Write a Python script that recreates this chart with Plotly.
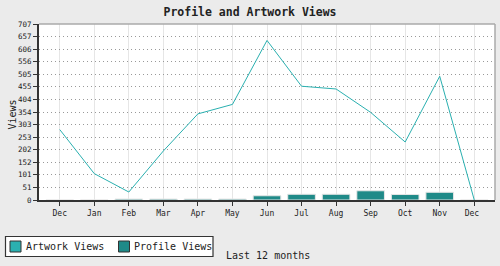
import plotly.graph_objects as go

months = ["Dec", "Jan", "Feb", "Mar", "Apr", "May", "Jun", "Jul", "Aug", "Sep", "Oct", "Nov", "Dec "]
artwork_views = [283, 106, 32, 197, 346, 384, 641, 457, 446, 352, 233, 497, 0]
profile_views = [0, 0, 4, 4, 4, 4, 17, 23, 23, 37, 22, 31, 0]
y_tick_vals = [0, 50.5, 101, 151.5, 202, 252.5, 303, 353.5, 404, 454.5, 505, 555.5, 606, 656.5, 707]
y_tick_text = ["0", "51", "101", "152", "202", "253", "303", "354", "404", "455", "505", "556", "606", "657", "707"]
series_names = ["Artwork Views", "Profile Views"]

FONT = "DejaVu Sans Mono"
ART_COLOR = "#2ab0b0"
PROF_COLOR = "#1f8a88"

# plot area in pixels
PL, PR, PT, PB = 39, 495, 24, 200


def px_x(px):
    return (px - PL) / (PR - PL)


def px_y(py):
    return (PB - py) / (PB - PT)


fig = go.Figure()
fig.add_trace(go.Bar(
    x=months, y=profile_views, name=series_names[1],
    marker=dict(color=PROF_COLOR, line=dict(color="#e6e6e6", width=1)),
    width=0.8, showlegend=False,
))
fig.add_trace(go.Scatter(
    x=months, y=artwork_views, name=series_names[0], mode="lines",
    line=dict(color=ART_COLOR, width=1), showlegend=False,
))

shapes = [
    dict(type="line", xref="paper", yref="paper", x0=0, x1=1, y0=1, y1=1,
         line=dict(color="#aaaaaa", width=1.5)),
    dict(type="line", xref="paper", yref="paper", x0=1, x1=1, y0=0, y1=1,
         line=dict(color="#aaaaaa", width=1.5)),
    # legend box
    dict(type="rect", xref="paper", yref="paper", x0=px_x(5.5), x1=px_x(213), y0=px_y(236.5), y1=px_y(256.5),
         line=dict(color="#333333", width=1.2), fillcolor="white", layer="above"),
    dict(type="rect", xref="paper", yref="paper", x0=px_x(10), x1=px_x(21), y0=px_y(241), y1=px_y(252),
         line=dict(color="#333333", width=1), fillcolor=ART_COLOR, layer="above"),
    dict(type="rect", xref="paper", yref="paper", x0=px_x(118.5), x1=px_x(129.5), y0=px_y(241), y1=px_y(252),
         line=dict(color="#333333", width=1), fillcolor=PROF_COLOR, layer="above"),
]
annotations = [
    dict(text=series_names[0], xref="paper", yref="paper", x=px_x(24), y=px_y(246.5), xanchor="left",
         yanchor="middle", showarrow=False, font=dict(family=FONT, size=10, color="#222222")),
    dict(text=series_names[1], xref="paper", yref="paper", x=px_x(132), y=px_y(246.5), xanchor="left",
         yanchor="middle", showarrow=False, font=dict(family=FONT, size=10, color="#222222")),
    dict(text="Last 12 months", xref="paper", yref="paper", x=px_x(224), y=px_y(255), xanchor="left",
         yanchor="middle", showarrow=False, font=dict(family=FONT, size=10, color="#222222")),
    dict(text="Views", xref="paper", yref="paper", x=px_x(11.5), y=px_y(115), xanchor="center",
         yanchor="middle", textangle=-90, showarrow=False, font=dict(family=FONT, size=10, color="#222222")),
]

fig.update_layout(
    width=500, height=266,
    margin=dict(l=PL, r=500 - PR, t=PT, b=266 - PB, autoexpand=False),
    paper_bgcolor="#ebebeb", plot_bgcolor="white",
    font=dict(family=FONT, size=8, color="#222222"),
    title=dict(text="<b>Profile and Artwork Views</b>", x=0.5, xanchor="center",
               y=1 - 12 / 266, yanchor="middle", font=dict(family=FONT, size=11.5, color="#222222")),
    bargap=0.2,
    showlegend=False,
    xaxis=dict(type="category", range=[-0.6, 12.6], showgrid=True, gridcolor="#e6e6e6", gridwidth=1,
               showline=True, linecolor="#333333", linewidth=2, ticks="outside", ticklen=4,
               tickcolor="#333333", tickfont=dict(family=FONT, size=8, color="#222222"),
               zeroline=False, automargin=False),
    yaxis=dict(range=[0, 707], tickvals=y_tick_vals, ticktext=y_tick_text, showgrid=True,
               gridcolor="#999999", griddash="1px,3px", gridwidth=1, showline=True, linecolor="#333333",
               linewidth=2, ticks="outside", ticklen=4, tickcolor="#333333",
               tickfont=dict(family=FONT, size=7.5, color="#222222"), zeroline=False, automargin=False),
    shapes=shapes,
    annotations=annotations,
)

fig.write_html("out.html")
